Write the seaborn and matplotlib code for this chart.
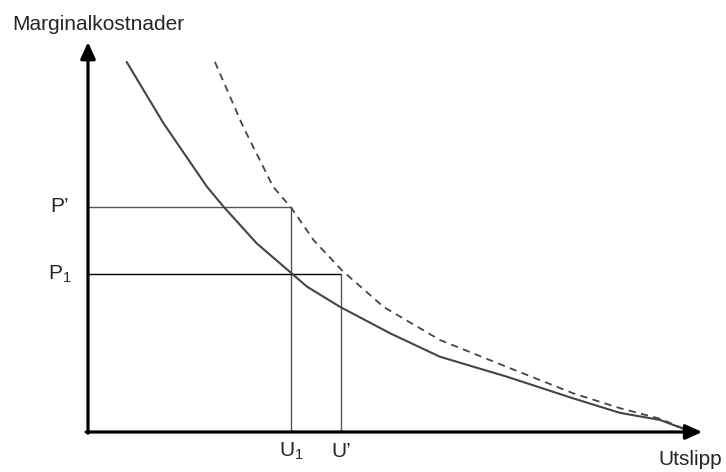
import matplotlib
matplotlib.use("Agg")
import matplotlib.pyplot as plt
import seaborn as sns

# kurvene lest av bildet (x = utslipp, y = marginalkostnad, 0-100)
mc_x = [6.3, 12.3, 19.4, 22.1, 27.5, 33.2, 35.7, 41.1, 49.3, 57.4, 68.3, 79.2, 86.8, 93.3, 97.7]
mc_y = [94.9, 79.2, 62.9, 57.8, 48.4, 40.7, 37.3, 32.1, 25.3, 19.3, 14.2, 8.6, 4.9, 3.1, 0.5]
mc2_x = [20.7, 25.3, 30.2, 33.2, 36.8, 41.4, 48.2, 57.4, 68.3, 79.2, 86.8, 93.3, 97.7]
mc2_y = [94.9, 78.3, 62.9, 57.4, 49.2, 41.5, 32.1, 23.6, 16.7, 9.9, 6.1, 3.4, 0.5]

# avlesninger
p_levels = [57.7, 40.5]
p_labels = ["P’", "P$_1$"]
u_levels = [33.1, 41.3]
u_labels = ["U$_1$", "U’"]

sns.set_style("white")
plt.rcParams["font.family"] = ["Liberation Sans", "DejaVu Sans"]
plt.rcParams["mathtext.fontset"] = "custom"
plt.rcParams["mathtext.rm"] = "Liberation Sans"

fig = plt.figure(figsize=(7.26, 4.72), dpi=100)
ax = fig.add_axes([88 / 726, 40 / 472, 613 / 726, 390 / 472])
ax.set_xlim(0, 100)
ax.set_ylim(0, 100)
for s in ax.spines.values():
    s.set_visible(False)
ax.set_xticks([])
ax.set_yticks([])

# hjelpelinjer
ax.plot([0, u_levels[0]], [p_levels[0], p_levels[0]], color="#555555", lw=1)
ax.plot([u_levels[0], u_levels[0]], [0, p_levels[0]], color="#555555", lw=1)
ax.plot([0, u_levels[1]], [p_levels[1], p_levels[1]], color="black", lw=1)
ax.plot([u_levels[1], u_levels[1]], [0, p_levels[1]], color="#555555", lw=1)

sns.lineplot(x=mc_x, y=mc_y, ax=ax, color="#444444", lw=1.5)
sns.lineplot(x=mc2_x, y=mc2_y, ax=ax, color="#444444", lw=1.3, dashes=False,
             linestyle=(0, (4, 3)))

# aksene med piler
arrow = dict(arrowstyle="-|>,head_length=1.0,head_width=0.45", color="black",
             lw=2.3, shrinkA=0, shrinkB=0)
ax.annotate("", xy=(0, 100), xytext=(0, -0.3), arrowprops=arrow, annotation_clip=False)
ax.annotate("", xy=(100.2, 0), xytext=(-0.3, 0), arrowprops=arrow, annotation_clip=False)

# tekst
fig.text(12 / 726, 1 - 30 / 472, "Marginalkostnader", fontsize=15, va="baseline")
fig.text(722 / 726, 1 - 465 / 472, "Utslipp", fontsize=15, va="baseline", ha="right")
for p, lab in zip(p_levels, p_labels):
    ax.text(-4.6, p, lab, fontsize=15, ha="center", va="center")
for u, lab in zip(u_levels, u_labels):
    ax.text(u, -5, lab, fontsize=15, ha="center", va="center")

fig.savefig("out.png", dpi=100)
